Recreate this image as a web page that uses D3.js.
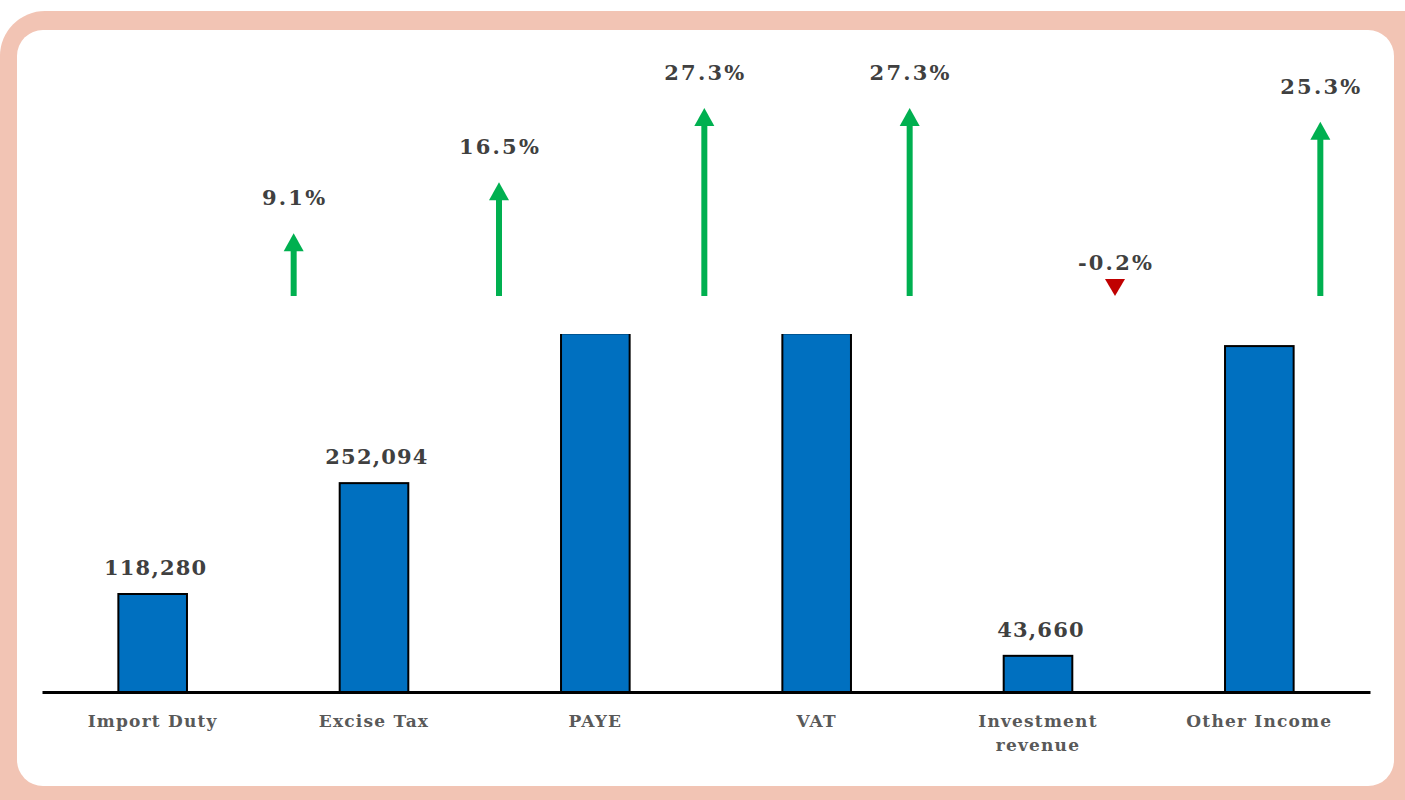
<!DOCTYPE html>
<html><head><meta charset="utf-8">
<script src="https://cdn.jsdelivr.net/npm/d3@7"></script>
<style>html,body{margin:0;padding:0;background:#fff;}svg{display:block;}</style>
</head><body>
<svg id="chart" width="1405" height="800"></svg>
<script>
const categories = ["Import Duty","Excise Tax","PAYE","VAT","Investment revenue","Other Income"];
const values = [118280, 252094, 433000, 433000, 43660, 417500];
const valueLabels = ["118,280","252,094","","","43,660",""];
const growth = [9.1, 16.5, 27.3, 27.3, -0.2, 25.3];
const growthLabels = ["9.1%","16.5%","27.3%","27.3%","-0.2%","25.3%"];

const svg = d3.select("#chart");
// frame
svg.append("rect").attr("x",0).attr("y",11).attr("width",1450).attr("height",840)
  .attr("rx",45).attr("fill","#f2c4b4");
svg.append("rect").attr("x",17).attr("y",30).attr("width",1377).attr("height",756)
  .attr("rx",26).attr("fill","#ffffff");

const baseY = 692;
const x = d3.scaleBand().domain(categories).range([42,1370]).paddingInner(0.69).paddingOuter(0.345);
const y = d3.scaleLinear().domain([0,118280]).range([baseY, baseY-98]);

// clip so bars exceeding the plot lose their top edge
svg.append("defs").append("clipPath").attr("id","plot")
  .append("rect").attr("x",0).attr("y",334).attr("width",1405).attr("height",400);

svg.append("g").attr("clip-path","url(#plot)")
  .selectAll("rect").data(categories).join("rect")
  .attr("x", d=>x(d)).attr("width", x.bandwidth())
  .attr("y", (d,i)=>y(values[i])).attr("height",(d,i)=>baseY-y(values[i]))
  .attr("fill","#0070c0").attr("stroke","#000").attr("stroke-width",2);

// axis
const xAxis = d3.axisBottom(x).tickSize(0).tickFormat("");
const ag = svg.append("g").attr("transform",`translate(0,${baseY})`).call(xAxis);
ag.select(".domain").attr("stroke","#000").attr("stroke-width",3);

// category labels
const catG = svg.append("g");
categories.forEach((c,i)=>{
  const words = c === "Investment revenue" ? ["Investment","revenue"] : [c];
  const t = catG.append("text").attr("x", x(c)+x.bandwidth()/2).attr("y",baseY+35)
    .attr("text-anchor","middle").attr("font-family","'DejaVu Serif', serif")
    .attr("font-weight","bold").attr("font-size",17).attr("fill","#595959")
    .attr("letter-spacing",1.2);
  words.forEach((w,j)=>t.append("tspan").attr("x", x(c)+x.bandwidth()/2).attr("dy", j?24:0).text(w));
});

// value labels
svg.append("g").selectAll("text").data(categories).join("text")
  .attr("x", d=>x(d)+x.bandwidth()/2+3).attr("y",(d,i)=>y(values[i])-19)
  .attr("text-anchor","middle").attr("font-family","'DejaVu Serif', serif")
  .attr("font-weight","bold").attr("font-size",21).attr("fill","#404040")
  .attr("letter-spacing",1.2)
  .text((d,i)=>valueLabels[i]);

// growth arrows
const xa = d3.scaleBand().domain(categories).range([191,1423]);
const arrowBase = 296;
const len = d3.scaleLinear().domain([0,27.3]).range([0,188]);
const ag2 = svg.append("g");
categories.forEach((c,i)=>{
  const cx = xa(c)+xa.bandwidth()/2;
  const g = growth[i];
  let labelY;
  if (g >= 0) {
    const top = arrowBase - len(g);
    ag2.append("line").attr("x1",cx).attr("x2",cx).attr("y1",arrowBase).attr("y2",top+14)
      .attr("stroke","#00b050").attr("stroke-width",6);
    ag2.append("path").attr("d",`M${cx-10},${top+18} L${cx},${top} L${cx+10},${top+18} Z`).attr("fill","#00b050");
    labelY = top - 28;
  } else {
    ag2.append("path").attr("d",`M${cx-10},${arrowBase-17} L${cx+10},${arrowBase-17} L${cx},${arrowBase} Z`).attr("fill","#c00000");
    labelY = arrowBase - 26;
  }
  ag2.append("text").attr("x",cx+1).attr("y",labelY).attr("text-anchor","middle")
    .attr("font-family","'DejaVu Serif', serif").attr("font-weight","bold")
    .attr("font-size",21).attr("fill","#404040").attr("letter-spacing",2.2).text(growthLabels[i]);
});
</script>
</body></html>
